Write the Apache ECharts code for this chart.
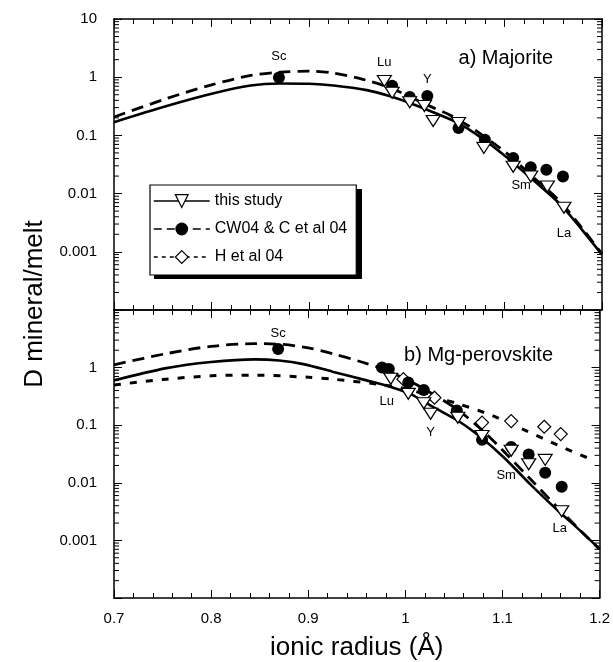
<!DOCTYPE html>
<html>
<head>
<meta charset="utf-8">
<script src="https://cdn.jsdelivr.net/npm/echarts@6/dist/echarts.min.js"></script>
<style>
  html, body { margin: 0; padding: 0; background: #fff; }
  #chart { width: 613px; height: 662px; }
</style>
</head>
<body>
<div id="chart"></div>
<script>
// Axis ticks
const xTickLabels = ['0.7', '0.8', '0.9', '1', '1.1', '1.2'];
const decadeValues = [10, 1, 0.1, 0.01, 0.001];
const decadeLabels = ['10', '1', '0.1', '0.01', '0.001'];
const minorMultipliers = [2, 3, 4, 5, 6, 7, 8, 9];
const minorDecades = [0.0001, 0.001, 0.01, 0.1, 1];

// a) Majorite — measured partition coefficients
const majStudyRadius = [0.977, 0.985, 1.003, 1.018, 1.027, 1.053, 1.079, 1.109, 1.127, 1.144, 1.161];
const majStudyD      = [0.86, 0.54, 0.37, 0.32, 0.177, 0.163, 0.061, 0.029, 0.0196, 0.0132, 0.0057];
const majStudyTags   = ['Lu', '', '', '', '', '', '', 'Sm', '', '', 'La'];

const majCWRadius = [0.869, 0.985, 1.003, 1.021, 1.053, 1.080, 1.109, 1.127, 1.143, 1.160];
const majCWD      = [0.99, 0.71, 0.457, 0.476, 0.134, 0.084, 0.041, 0.0285, 0.0256, 0.0196];
const majCWTags   = ['Sc', '', '', 'Y', '', '', '', '', '', ''];

// a) Majorite — lattice-strain fits
const majFitStudyRadius = [0.700, 0.754, 0.800, 0.840, 0.870, 0.900, 0.925, 0.959, 0.983, 1.003, 1.027, 1.055, 1.078, 1.102, 1.129, 1.157, 1.180, 1.200];
const majFitStudyD      = [0.169, 0.32, 0.52, 0.72, 0.78, 0.77, 0.72, 0.60, 0.47, 0.36, 0.25, 0.155, 0.087, 0.0427, 0.0174, 0.0066, 0.00234, 0.00089];

const majFitCWRadius = [0.700, 0.754, 0.800, 0.840, 0.870, 0.900, 0.925, 0.955, 0.985, 1.003, 1.027, 1.044, 1.068, 1.089, 1.102, 1.129, 1.157, 1.180, 1.200];
const majFitCWD      = [0.207, 0.43, 0.74, 1.07, 1.22, 1.27, 1.18, 0.92, 0.64, 0.46, 0.30, 0.225, 0.13, 0.073, 0.050, 0.0195, 0.0073, 0.0025, 0.00092];

// b) Mg-perovskite — measured partition coefficients
const pvStudyRadius = [0.985, 1.003, 1.019, 1.026, 1.054, 1.079, 1.109, 1.127, 1.144, 1.161];
const pvStudyD      = [0.64, 0.35, 0.24, 0.158, 0.135, 0.065, 0.036, 0.021, 0.025, 0.0032];
const pvStudyTags   = ['Lu', '', '', 'Y', '', '', 'Sm', '', '', 'La'];

const pvCWRadius = [0.869, 0.976, 0.983, 1.003, 1.019, 1.053, 1.079, 1.109, 1.127, 1.144, 1.161];
const pvCWD      = [2.1, 1.0, 0.95, 0.55, 0.41, 0.18, 0.056, 0.042, 0.031, 0.015, 0.0085];
const pvCWTags   = ['Sc', '', '', '', '', '', '', '', '', '', ''];

const pvHRadius = [0.998, 1.030, 1.079, 1.109, 1.143, 1.160];
const pvHD      = [0.63, 0.30, 0.111, 0.118, 0.094, 0.070];

// b) Mg-perovskite — lattice-strain fits
const pvFitStudyRadius = [0.700, 0.754, 0.800, 0.845, 0.870, 0.895, 0.925, 0.960, 0.985, 1.005, 1.028, 1.055, 1.078, 1.102, 1.129, 1.157, 1.180, 1.200];
const pvFitStudyD      = [0.60, 0.98, 1.25, 1.39, 1.33, 1.15, 0.85, 0.60, 0.46, 0.35, 0.21, 0.117, 0.061, 0.027, 0.0093, 0.0033, 0.00148, 0.00071];

const pvFitCWRadius = [0.700, 0.754, 0.800, 0.845, 0.870, 0.900, 0.925, 0.955, 0.978, 1.003, 1.028, 1.053, 1.079, 1.100, 1.129, 1.157, 1.180, 1.200];
const pvFitCWD      = [1.12, 1.75, 2.34, 2.6, 2.55, 2.2, 1.75, 1.25, 0.93, 0.6, 0.35, 0.19, 0.082, 0.037, 0.0115, 0.0037, 0.0015, 0.0007];

const pvFitHRadius = [0.700, 0.754, 0.800, 0.845, 0.900, 0.925, 0.970, 1.000, 1.035, 1.055, 1.089, 1.123, 1.157, 1.188];
const pvFitHD      = [0.50, 0.63, 0.72, 0.74, 0.68, 0.63, 0.52, 0.43, 0.29, 0.234, 0.148, 0.082, 0.045, 0.027];

const FONT = 'Liberation Sans, Arial, Helvetica, sans-serif';
const X_MIN = 0.7, X_MAX = 1.2;

const pairs = (xs, ys) => xs.map((x, i) => [x, ys[i]]);

// Element tags: where each one sits relative to its marker
const tagPlacement = {
  top:    { Sc: ['top', 9, [0, 0]], Lu: ['top', 6, [0, 0]], Y: ['top', 4, [0, 0]], Sm: ['bottom', 6, [8, 0]], La: ['bottom', 13, [0, 0]] },
  bottom: { Sc: ['top', 3, [0, 0]], Lu: ['bottom', 10, [-4, 0]], Y: ['bottom', 6, [0, 0]], Sm: ['bottom', 12, [-5, 0]], La: ['bottom', 5, [-2, 0]] }
};

function tagged(xs, ys, tags, panel) {
  return xs.map((x, i) => {
    const t = tags[i];
    if (!t) return { value: [x, ys[i]] };
    const p = tagPlacement[panel][t];
    return {
      value: [x, ys[i]],
      label: { show: true, formatter: t, position: p[0], distance: p[1], offset: p[2],
               fontSize: 13, color: '#000', fontFamily: FONT }
    };
  });
}

const minorValues = [];
minorDecades.forEach(d => minorMultipliers.forEach(m => minorValues.push([X_MIN, d * m])));

function decadeFormatter(shown) {
  return v => {
    const i = decadeValues.findIndex(d => Math.abs(v - d) / d < 1e-6);
    return (i >= 0 && shown.indexOf(i) >= 0) ? decadeLabels[i] : '';
  };
}

const axisLine = { show: true, onZero: false, lineStyle: { color: '#000', width: 1.5 } };

function xAxisDef(grid, pos, labels) {
  return {
    type: 'value', gridIndex: grid, position: pos, min: X_MIN, max: X_MAX, interval: 0.1,
    axisLine: axisLine,
    axisTick: { show: true, inside: true, length: 8, lineStyle: { color: '#000', width: 1 } },
    minorTick: { show: true, splitNumber: 5, length: 5, lineStyle: { color: '#000', width: 1 } },
    splitLine: { show: false },
    axisLabel: labels ? {
      show: true, margin: 13, fontSize: 15, color: '#000', fontFamily: FONT,
      formatter: v => xTickLabels[Math.round((v - X_MIN) * 10)] || ''
    } : { show: false },
    name: labels ? 'ionic radius (Å)' : '',
    nameLocation: 'middle', nameGap: 37,
    nameTextStyle: { fontSize: 26, color: '#000', fontFamily: FONT }
  };
}

function yAxisDef(grid, pos, shown) {
  return {
    type: 'log', logBase: 10, gridIndex: grid, position: pos, min: 0.0001, max: 10,
    axisLine: axisLine,
    axisTick: { show: true, inside: true, length: 8, lineStyle: { color: '#000', width: 1 } },
    splitLine: { show: false },
    axisLabel: shown ? {
      show: true, margin: 17, fontSize: 15, color: '#000', fontFamily: FONT,
      formatter: decadeFormatter(shown)
    } : { show: false }
  };
}

// Log minor ticks on both vertical edges of a panel
function minorTickSeries(axisIdx) {
  return {
    type: 'custom', xAxisIndex: axisIdx, yAxisIndex: axisIdx, silent: true, clip: false, z: 5,
    data: minorValues,
    renderItem: (params, api) => {
      const v = api.value(1);
      const l = api.coord([X_MIN, v]);
      const r = api.coord([X_MAX, v]);
      return {
        type: 'group',
        children: [
          { type: 'line', shape: { x1: l[0], y1: l[1], x2: l[0] + 5, y2: l[1] }, style: { stroke: '#000', lineWidth: 1 } },
          { type: 'line', shape: { x1: r[0], y1: r[1], x2: r[0] - 5, y2: r[1] }, style: { stroke: '#000', lineWidth: 1 } }
        ]
      };
    }
  };
}

const studyLine = { color: '#000', width: 2.6, type: 'solid' };
const cwLine = { color: '#000', width: 2.8, type: [12, 7] };
const hLine = { color: '#000', width: 3, type: [7, 9] };

const triStyle = { color: '#fff', borderColor: '#000', borderWidth: 1.2, opacity: 1 };
const dotStyle = { color: '#000', borderColor: '#000', borderWidth: 0, opacity: 1 };
const diaStyle = { color: '#fff', borderColor: '#000', borderWidth: 1.2, opacity: 1 };

function fitSeries(name, axisIdx, data, lineStyle, symbol, rotate, itemStyle) {
  return {
    type: 'line', name: name, xAxisIndex: axisIdx, yAxisIndex: axisIdx,
    data: data, smooth: 0.3, showSymbol: false, symbol: symbol, symbolRotate: rotate,
    lineStyle: lineStyle, itemStyle: itemStyle, silent: true, z: 2
  };
}

function pointSeries(name, axisIdx, data, symbol, size, rotate, itemStyle, z) {
  return {
    type: 'scatter', name: name, xAxisIndex: axisIdx, yAxisIndex: axisIdx,
    data: data, symbol: symbol, symbolSize: size, symbolRotate: rotate,
    itemStyle: itemStyle, silent: true, z: z
  };
}

// Legend box geometry: text column has a fixed width so the box size is known,
// and the drop shadow is a plain offset block behind it
const LEGEND_LEFT = 150, LEGEND_TOP = 185;
const LEGEND_PAD = [8, 9, 10, 3];
const LEGEND_ICON_W = 56, LEGEND_ICON_H = 16, LEGEND_GAP = 12, LEGEND_TEXT_W = 135;
const LEGEND_W = LEGEND_PAD[3] + LEGEND_ICON_W + 5 + LEGEND_TEXT_W + LEGEND_PAD[1];
const LEGEND_H = LEGEND_PAD[0] + 3 * LEGEND_ICON_H + 2 * LEGEND_GAP + LEGEND_PAD[2];

const chart = echarts.init(document.getElementById('chart'), null, { renderer: 'canvas' });

chart.setOption({
  animation: false,
  backgroundColor: '#fff',
  textStyle: { fontFamily: FONT },
  grid: [
    { left: 114, right: 11, top: 19, height: 291 },
    { left: 114, right: 11, top: 310, height: 293 }
  ],
  xAxis: [
    xAxisDef(0, 'bottom', false),
    xAxisDef(0, 'top', false),
    xAxisDef(1, 'bottom', true),
    xAxisDef(1, 'top', false)
  ],
  yAxis: [
    yAxisDef(0, 'left', [0, 1, 2, 3, 4]),
    yAxisDef(0, 'right', null),
    yAxisDef(1, 'left', [1, 2, 3, 4]),
    yAxisDef(1, 'right', null)
  ],
  legend: {
    orient: 'vertical', left: LEGEND_LEFT, top: LEGEND_TOP,
    padding: LEGEND_PAD, itemGap: LEGEND_GAP, itemWidth: LEGEND_ICON_W, itemHeight: LEGEND_ICON_H,
    backgroundColor: '#fff', borderColor: '#000', borderWidth: 1.2,
    selectedMode: false,
    textStyle: { fontSize: 16, color: '#000', fontFamily: FONT, width: LEGEND_TEXT_W, overflow: 'none' },
    data: [
      { name: 'this study', itemStyle: triStyle, lineStyle: { color: '#000', width: 1.5, type: 'solid' } },
      { name: 'CW04 & C et al 04', itemStyle: dotStyle, lineStyle: { color: '#000', width: 1.5, type: [8, 5] } },
      { name: 'H et al 04', itemStyle: diaStyle, lineStyle: { color: '#000', width: 1.5, type: [4, 4] } }
    ]
  },
  graphic: [
    { type: 'rect', z: 1,
      shape: { x: LEGEND_LEFT + 4, y: LEGEND_TOP + 4, width: LEGEND_W, height: LEGEND_H },
      style: { fill: '#000' } },
    { type: 'text', x: 35, y: 304, rotation: Math.PI / 2,
      style: { text: 'D mineral/melt', fontSize: 26, fontFamily: FONT, fill: '#000', align: 'center', verticalAlign: 'middle' } },
    { type: 'text', x: 553, y: 58,
      style: { text: 'a) Majorite', fontSize: 20, fontFamily: FONT, fill: '#000', align: 'right', verticalAlign: 'middle' } },
    { type: 'text', x: 553, y: 355,
      style: { text: 'b) Mg-perovskite', fontSize: 20, fontFamily: FONT, fill: '#000', align: 'right', verticalAlign: 'middle' } }
  ],
  series: [
    // a) Majorite
    fitSeries('this study', 0, pairs(majFitStudyRadius, majFitStudyD), studyLine, 'triangle', 180, triStyle),
    fitSeries('CW04 & C et al 04', 0, pairs(majFitCWRadius, majFitCWD), cwLine, 'circle', 0, dotStyle),
    pointSeries('majorite this study', 0, tagged(majStudyRadius, majStudyD, majStudyTags, 'top'), 'triangle', [14, 11], 180, triStyle, 4),
    pointSeries('majorite CW04', 0, tagged(majCWRadius, majCWD, majCWTags, 'top'), 'circle', 12, 0, dotStyle, 3),
    minorTickSeries(0),

    // b) Mg-perovskite
    fitSeries('this study', 2, pairs(pvFitStudyRadius, pvFitStudyD), studyLine, 'triangle', 180, triStyle),
    fitSeries('CW04 & C et al 04', 2, pairs(pvFitCWRadius, pvFitCWD), cwLine, 'circle', 0, dotStyle),
    fitSeries('H et al 04', 2, pairs(pvFitHRadius, pvFitHD), hLine, 'diamond', 0, diaStyle),
    pointSeries('perovskite H et al 04', 2, pairs(pvHRadius, pvHD), 'diamond', 13, 0, diaStyle, 3),
    pointSeries('perovskite this study', 2, tagged(pvStudyRadius, pvStudyD, pvStudyTags, 'bottom'), 'triangle', [14, 11], 180, triStyle, 4),
    pointSeries('perovskite CW04', 2, tagged(pvCWRadius, pvCWD, pvCWTags, 'bottom'), 'circle', 12, 0, dotStyle, 3),
    minorTickSeries(2)
  ]
});
</script>
</body>
</html>
